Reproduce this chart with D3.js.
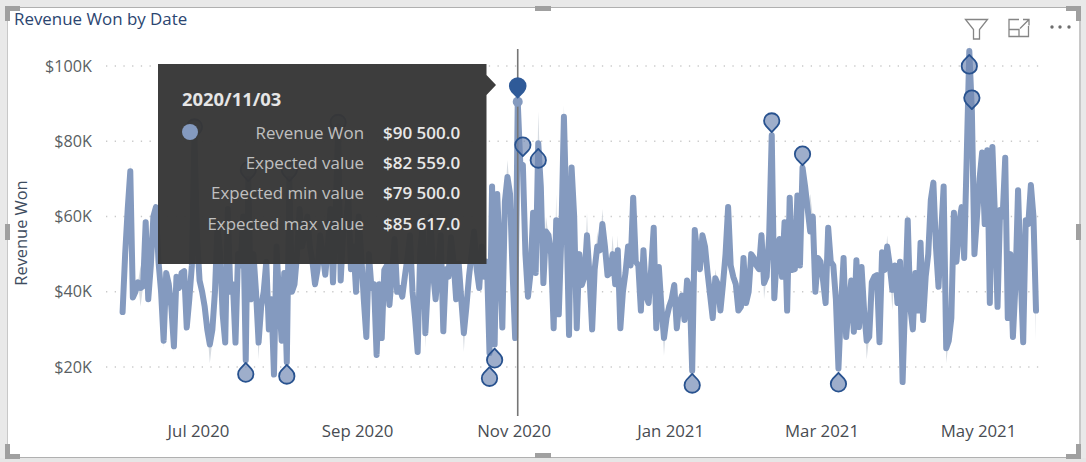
<!DOCTYPE html>
<html><head><meta charset="utf-8">
<script src="https://cdn.jsdelivr.net/npm/d3@7"></script>
<style>html,body{margin:0;padding:0;background:#e9e9e9;overflow:hidden}svg{display:block}text{font-family:"Open Sans","Noto Sans",sans-serif}</style>
</head><body><svg id="c" width="1086" height="462"></svg>
<script>
const title = "Revenue Won by Date";
const yAxisTitle = "Revenue Won";
const startDate = "2020-06-02";
const xTicks = ["2020-07-01","2020-09-01","2020-11-01","2021-01-01","2021-03-01","2021-05-01"];
const yTicks = [20,40,60,80,100];
// Daily revenue won, $K, starting at startDate
const revenue = [
34.6,50,62,72,38.5,40,42.5,41,41.5,58.5,38,47,60,62.5,48,40,27,45,42,36,
25.5,44,41,45,45.5,30.5,38,47,82,55,43,40,36,30,26,30,40,58,50,34,
26.5,62,40,42,26.5,50,47,60,21.8,70,38,50,40,26.5,36,40,48,30,38,18,
52,38,27,45,21.3,70,40,42,50,62,52,56,60,52,48,42,46,55,50,44.5,
52,62,42.5,60,84,43,56,58,65,46,52,40,60,50,38,28,50,41,42,23.2,
42,27.7,45.8,47,36.5,45,54,40,41,38.7,44,49,55,40,33,24,51,58,29,42,
60,45,38,46,55,29.5,46,44,54.5,48,38,47.5,38,29,36,44,50,56,46,41,
52,44,48,23.7,68,26,66,50,30.5,64,70.5,66,45,27.7,90.5,74,73.7,50,38.7,45,
61,45,79.5,68,42.3,56,55,50,30.3,59,34,55,86.5,60,28.5,73,60,30.3,50,41.8,
44,55,44,30,46,52,51,58,52,44.4,45,50,42,51,30.3,40,45,52,47,65,
48,47,35,51,39,37,46,57,30.3,46.6,36,27.7,33,36,38,41.8,30.3,37,39,32.5,
43,41,19,56.4,50,46,55,52,45,39,33,43.6,42,35,42,50,62.5,47,44,42,
35,36,49,37,40,50,49,47,46,55,42.3,44,55,81.6,38.3,50,54,44,58.5,35,
65,45.8,46,65.6,47,73,68,62,56,60,40,49,48,43,37,57,48,47,38,19.6,
36,49,28,36,43,29.4,48.4,30.6,46.6,35,27,28,42.5,44,44.4,26.6,50.5,45.8,52,47,
40.5,47,37,48,16,38,59,36,30,45,35,53,32.5,44,50,64.4,69,52,41.3,55,
68,25,27,33,61,48,58,62.5,49,76,104,88,50,60,70,77,58,77.6,37,78.5,
60,36,61.7,60,75.6,33,50,28,42,67,45,26.6,59,58,68.4,60,35];
// Where the expected band visibly leaves the line: day index, expected max, expected min ($K)
const bandDays = [3,7,9,16,20,26,34,35,53,100,115,118,133,150,162,165,169,172,181,185,187,191,193,211,222,231,250,265,268,279,290,298,300,321,330,356];
const bandMax  = [74,47,60,29,27,40,28,32,29,44,26,31,31,75,88,60,66,89.6,61,56,62,55,55,30,21,46,47,75,66,22,30,55,46,27,106,37];
const bandMin  = [70,36,56,25,24,33,21,27,22,38,23,25,24,69,77,52,56,84,51,48,54,47,47,23,18,40,38,70,57,18,22,48,35,21,100,27];
const anomalyDays = [28,48,49,64,65,84,143,145,156,162,222,253,265,279,330,331];
const anomalyValues = [83.8,18.1,72.4,17.6,72.4,85,17,21.9,79,75,15.2,85.4,76.6,15.5,100,91.5];
const anomalyPointsUp = [false,true,false,true,false,false,true,true,false,true,true,false,false,true,true,false];
const selectedDay = 154;
const selectedMarkerValue = 94.4;
const tooltipDate = "2020/11/03";
const tooltipLabels = ["Revenue Won","Expected value","Expected min value","Expected max value"];
const tooltipValues = ["$90 500.0","$82 559.0","$79 500.0","$85 617.0"];

const svg = d3.select("#c");
const day0 = d3.isoParse(startDate+"T00:00:00Z");
const dateOf = i => d3.utcDay.offset(day0, i);
const x = d3.scaleUtc().domain([new Date(Date.UTC(2020,6,1)), new Date(Date.UTC(2021,4,1))]).range([197,977]);
const y = d3.scaleLinear().domain([20,100]).range([367,66]);

// frame
svg.append("rect").attr("x",7.5).attr("y",7.5).attr("width",1072).attr("height",450).attr("fill","#fff").attr("stroke","#b0b0b0");
svg.append("rect").attr("x",7).attr("y",7).attr("width",1).attr("height",450).attr("fill","#c8c8c8");
svg.append("rect").attr("x",1079).attr("y",7).attr("width",2).attr("height",450).attr("fill","#c8c8c8");
svg.append("rect").attr("x",0).attr("y",458).attr("width",1086).attr("height",4).attr("fill","#e6e6e6");
const hc="#a0a0a0";
[[5,6,15,5],[5,6,5,15],[1066,6,15,5],[1076,6,5,15],[5,444,5,15],[5,454,15,5],[1066,454,15,5],[1076,444,5,15],[535,6,16,5],[535,453,16,5],[5,224,5,16],[1076,224,5,16]]
 .forEach(r=>svg.append("rect").attr("x",r[0]).attr("y",r[1]).attr("width",r[2]).attr("height",r[3]).attr("fill",hc));

svg.append("text").attr("x",14).attr("y",25).attr("font-size",16.9).attr("fill","#2b4570").text(title);

// icons
const ic = svg.append("g").attr("fill","none").attr("stroke","#858585").attr("stroke-width",1.3);
ic.append("path").attr("d","M965.5,19.5H987.5L979.5,29.5V39H973.5V29.5Z");
ic.append("path").attr("d","M1019,19.5H1009V36.5H1028.5V26M1009,29.5H1019V36.5M1020,28.5L1028.5,20M1023,19.5H1029V25.5");
[1052,1060,1069].forEach(cx=>svg.append("circle").attr("cx",cx).attr("cy",27).attr("r",1.7).attr("fill","#6d6d6d"));

// grid and axes
const yAxis = d3.axisLeft(y).tickValues(yTicks).tickSize(0).tickPadding(0).tickFormat(d=>"$"+d+"K");
const yg = svg.append("g").attr("transform","translate(92,0)").call(yAxis);
yg.select(".domain").remove();
yg.selectAll("text").attr("font-size",16.2).attr("font-family",'"Open Sans","Noto Sans",sans-serif').attr("fill","#5a5f63");
svg.append("g").selectAll("line").data(yTicks).join("line")
  .attr("x1",106).attr("x2",1045).attr("y1",d=>y(d)).attr("y2",d=>y(d))
  .attr("stroke","#c9c9c9").attr("stroke-width",1.3).attr("stroke-dasharray","1.3 7.4");
const xAxis = d3.axisBottom(x).tickValues(xTicks.map(d=>d3.isoParse(d+"T00:00:00Z"))).tickSize(0).tickPadding(0).tickFormat(d3.utcFormat("%b %Y"));
const xg = svg.append("g").attr("transform","translate(1,425)").call(xAxis);
xg.select(".domain").remove();
xg.selectAll("text").attr("font-size",16.8).attr("font-family",'"Open Sans","Noto Sans",sans-serif').attr("fill","#484c52");
svg.append("text").attr("transform","translate(27,233) rotate(-90)").attr("text-anchor","middle").attr("font-size",16.4).attr("fill","#3e4c5e").text(yAxisTitle);

// expected band
const bandRows = revenue.map((v,i)=>{const k=bandDays.indexOf(i);return {i,hi:k>=0?bandMax[k]:v,lo:k>=0?bandMin[k]:v};});
svg.append("path").datum(bandRows).attr("fill","#d6dbe1")
  .attr("d",d3.area().x(d=>x(dateOf(d.i))).y0(d=>y(d.lo)).y1(d=>y(d.hi)));
// revenue line
svg.append("path").datum(revenue).attr("fill","none").attr("stroke","#849abf").attr("stroke-width",6)
  .attr("stroke-linejoin","round").attr("stroke-linecap","round")
  .attr("d",d3.line().x((d,i)=>x(dateOf(i))).y(d=>y(d)));

// crosshair
const sx = x(dateOf(selectedDay));
svg.append("line").attr("x1",sx).attr("x2",sx).attr("y1",49).attr("y2",416).attr("stroke","#767676").attr("stroke-width",1.6);

// anomaly markers: a circle with tangents running to a tip
const drop = (up,r)=>{
  const d=r*1.45, s=up?-1:1, a=Math.acos(r/d), tx=r*Math.sin(a), ty=s*r*Math.cos(a);
  return `M0,${s*d}L${tx},${ty}A${r},${r} 0 1 ${up?1:0} ${-tx},${ty}Z`;
};
svg.append("g").selectAll("path").data(anomalyDays).join("path")
  .attr("transform",(d,i)=>`translate(${x(dateOf(d))},${y(anomalyValues[i])})`)
  .attr("d",(d,i)=>drop(anomalyPointsUp[i],7.7))
  .attr("fill","rgba(112,136,178,0.68)").attr("stroke","#28528f").attr("stroke-width",1.8).attr("stroke-linejoin","round");
svg.append("circle").attr("cx",sx).attr("cy",y(revenue[selectedDay])).attr("r",5).attr("fill","#849abf");
svg.append("path").attr("transform",`translate(${sx},${y(selectedMarkerValue)-1})`).attr("d",drop(false,8.8)).attr("fill","#2f5a98");

// tooltip
const tip = svg.append("g");
tip.append("path").attr("d","M158,64H486.5V75L496,85L486.5,95V264H158Z").attr("fill","#373737").attr("fill-opacity",0.97);
tip.append("text").attr("x",182).attr("y",106).attr("font-size",18.4).attr("font-weight",700).attr("fill","#e6e6e6").text(tooltipDate);
tip.append("circle").attr("cx",190).attr("cy",132).attr("r",8).attr("fill","#849abf");
tip.selectAll("text.l").data(tooltipLabels).join("text").attr("class","l")
  .attr("x",364).attr("y",(d,i)=>139+i*30.2).attr("text-anchor","end").attr("font-size",16.9).attr("fill","#c0c0c0").text(d=>d);
tip.selectAll("text.v").data(tooltipValues).join("text").attr("class","v")
  .attr("x",383).attr("y",(d,i)=>139+i*30.2).attr("font-size",17).attr("font-weight",600).attr("fill","#e8e8e8").text(d=>d);
</script></body></html>
